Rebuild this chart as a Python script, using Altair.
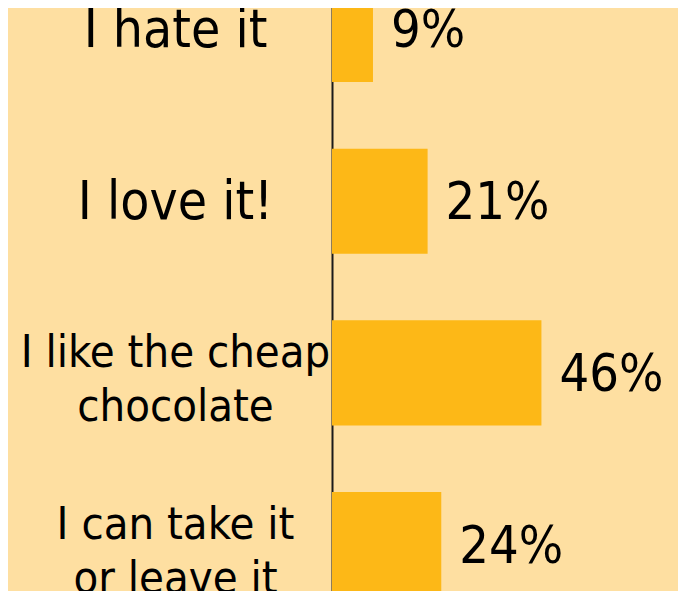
import altair as alt
import pandas as pd

categories = ["I hate it", "I love it!", "I like the cheap\nchocolate", "I can take it\nor leave it"]
values = [9, 21, 46, 24]

df = pd.DataFrame({"answer": categories, "share": values})

FONT = "DejaVu Sans Condensed"
MULTI = "indexof(datum.label, '\\n') >= 0"

base = alt.Chart(df).encode(
    y=alt.Y(
        "answer:N",
        sort=categories,
        scale=alt.Scale(range=[-64.35, 622.4], paddingInner=0.388, paddingOuter=0.194),
        axis=alt.Axis(
            title=None,
            domain=True,
            domainColor="#1a1a1a",
            domainWidth=2,
            ticks=False,
            tickSize=0,
            grid=False,
            labelPadding=157,
            labelAlign="center",
            labelBaseline="middle",
            labelFont=FONT,
            labelFontSize={"condition": {"test": MULTI, "value": 45}, "value": 53},
            labelOffset={"condition": {"test": MULTI, "value": -20}, "value": 2},
            labelLineHeight=54,
            labelExpr="split(datum.label, '\\n')",
            labelLimit=0,
            labelColor="#000000",
        ),
    )
)

bars = base.mark_bar(color="#FDB817").encode(
    x=alt.X("share:Q", scale=alt.Scale(domain=[0, 76], nice=False), axis=None)
)

text = base.mark_text(
    align="left", baseline="middle", dx=18, dy=2, font=FONT, fontSize=52, color="#000000"
).encode(
    x=alt.X("share:Q"),
    text=alt.Text("pct:N"),
).transform_calculate(pct="datum.share + '%'")

chart = (
    alt.layer(bars, text)
    .properties(
        width=346,
        height=583,
        padding={"left": 324, "top": 0, "right": 0, "bottom": 0},
        autosize=alt.AutoSizeParams(type="none"),
        background="#FEDFA1",
    )
    .configure_view(strokeWidth=0)
)

chart.save("out.html", embed_options={"renderer": "svg", "actions": False})
